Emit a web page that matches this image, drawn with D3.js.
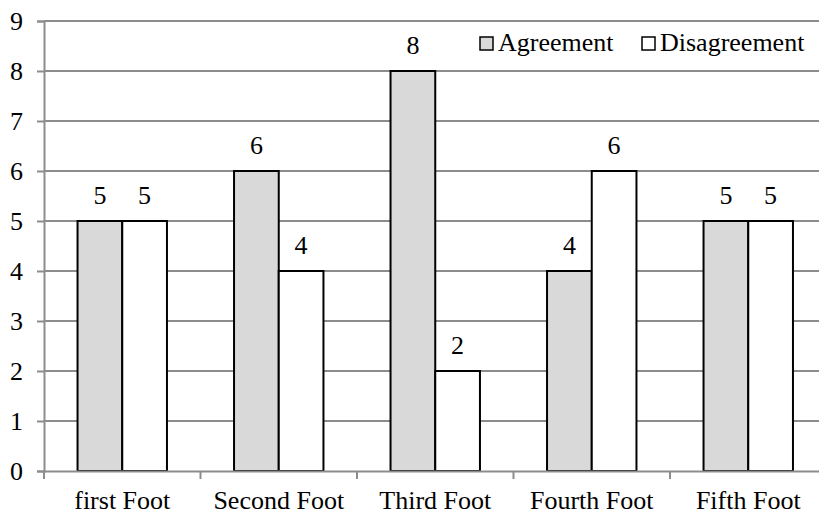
<!DOCTYPE html>
<html>
<head>
<meta charset="utf-8">
<script src="https://cdn.jsdelivr.net/npm/d3@7"></script>
<style>
  html, body { margin: 0; padding: 0; background: #fff; overflow: hidden; }
  svg text { font-family: "Liberation Serif", "Times New Roman", "DejaVu Serif", serif !important; }
</style>
</head>
<body>
<div id="chart"></div>
<script>
const categories = ["first Foot", "Second Foot", "Third Foot", "Fourth Foot", "Fifth Foot"];
const seriesNames = ["Agreement", "Disagreement"];
const agreement = [5, 6, 8, 4, 5];
const disagreement = [5, 4, 2, 6, 5];
const yTicks = [0, 1, 2, 3, 4, 5, 6, 7, 8, 9];

const fills = { Agreement: "#d9d9d9", Disagreement: "#ffffff" };

const size = { x: 819, y: 515 };
const margin = { top: 21, bottom: 44, left: 44 };
const fontSize = "26px";
// the plot runs past the right edge of the picture, as in the reference
const plotRight = 826.5;

const rows = categories.map((c, i) => ({
  category: c,
  values: [
    { series: "Agreement", value: agreement[i] },
    { series: "Disagreement", value: disagreement[i] }
  ]
}));

const svg = d3.select("#chart")
  .append("svg")
  .attr("width", size.x)
  .attr("height", size.y)
  .attr("viewBox", [0, 0, size.x, size.y]);

const x0 = d3.scaleBand()
  .domain(categories)
  .range([margin.left, plotRight])
  .padding(0);

const x1 = d3.scaleBand()
  .domain(seriesNames)
  .range([0, x0.bandwidth()])
  .paddingInner(0)
  .paddingOuter(0.75);

const y = d3.scaleLinear()
  .domain([0, 9])
  .range([size.y - margin.bottom, margin.top]);

// gridlines
svg.append("g")
  .selectAll("line")
  .data(yTicks.filter(d => d > 0))
  .enter()
  .append("line")
  .attr("x1", margin.left)
  .attr("x2", plotRight)
  .attr("y1", d => y(d))
  .attr("y2", d => y(d))
  .attr("stroke", "#8c8c8c")
  .attr("stroke-width", 2);

// y axis
const yAxis = svg.append("g")
  .attr("transform", `translate(${margin.left},0)`)
  .call(d3.axisLeft(y).tickValues(yTicks).tickSize(7).tickPadding(14).tickFormat(d3.format("d")));
yAxis.select(".domain").attr("stroke", "#8c8c8c").attr("stroke-width", 2);
yAxis.selectAll(".tick line").attr("stroke", "#8c8c8c").attr("stroke-width", 2);
yAxis.selectAll(".tick text")
  .attr("font-size", fontSize)
  .attr("fill", "#000");

// bars
const groups = svg.append("g")
  .selectAll(".barGroup")
  .data(rows)
  .enter()
  .append("g")
  .attr("class", "barGroup")
  .attr("transform", d => `translate(${x0(d.category)},0)`);

groups.selectAll("rect")
  .data(d => d.values)
  .enter()
  .append("rect")
  .attr("x", d => x1(d.series))
  .attr("y", d => y(d.value))
  .attr("width", x1.bandwidth())
  .attr("height", d => y(0) - y(d.value))
  .attr("fill", d => fills[d.series])
  .attr("stroke", "#000")
  .attr("stroke-width", 2);

groups.selectAll("text")
  .data(d => d.values)
  .enter()
  .append("text")
  .attr("x", d => x1(d.series) + x1.bandwidth() / 2)
  .attr("y", d => y(d.value) - 17)
  .attr("text-anchor", "middle")
  .attr("font-size", fontSize)
  .text(d => d.value);

// x axis
const xAxis = svg.append("g")
  .attr("transform", `translate(0,${y(0)})`)
  .call(d3.axisBottom(x0).tickSize(0).tickPadding(20));
xAxis.select(".domain").attr("stroke", "#8c8c8c").attr("stroke-width", 2);
xAxis.selectAll(".tick text")
  .attr("font-size", fontSize)
  .attr("fill", "#000");

// category boundary ticks
svg.append("g")
  .selectAll("line")
  .data(categories)
  .enter()
  .append("line")
  .attr("x1", d => x0(d))
  .attr("x2", d => x0(d))
  .attr("y1", y(0))
  .attr("y2", y(0) + 8)
  .attr("stroke", "#8c8c8c")
  .attr("stroke-width", 2);

// legend
const legendX = [480, 642];
const legend = svg.append("g")
  .selectAll("g")
  .data(seriesNames)
  .enter()
  .append("g")
  .attr("transform", (d, i) => `translate(${legendX[i]},37)`);

legend.append("rect")
  .attr("width", 13)
  .attr("height", 13)
  .attr("fill", d => fills[d])
  .attr("stroke", "#000")
  .attr("stroke-width", 1.5);

legend.append("text")
  .attr("x", 18)
  .attr("y", 14)
  .attr("font-size", fontSize)
  .text(d => d);
</script>
</body>
</html>
